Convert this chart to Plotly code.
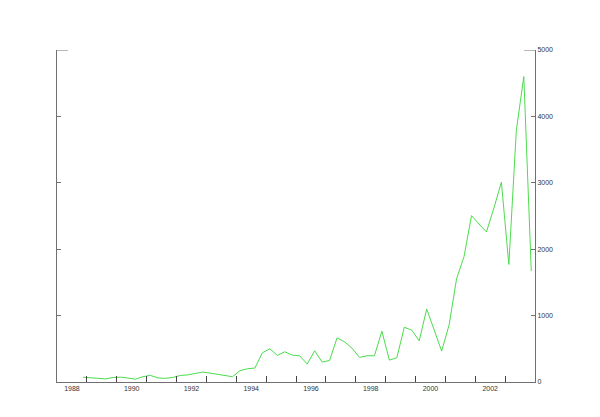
import plotly.graph_objects as go

# quarterly values, first point is Q2 1988, last is Q2 2003
years = list(range(1988, 2004))
quarter_values = [
    [72, 65, 55],                 # 1988 (Q2-Q4)
    [47, 68, 73, 60],             # 1989
    [42, 80, 100, 62],            # 1990
    [55, 68, 98, 107],            # 1991
    [125, 150, 133, 118],         # 1992
    [100, 80, 170, 200],          # 1993
    [210, 440, 500, 400],         # 1994
    [455, 405, 395, 270],         # 1995
    [470, 300, 325, 665],         # 1996
    [605, 510, 370, 395],         # 1997
    [395, 765, 330, 365],         # 1998
    [825, 780, 620, 1100],        # 1999
    [785, 465, 860, 1555],        # 2000
    [1890, 2505, 2380, 2260],     # 2001
    [2620, 3010, 1770, 3790],     # 2002
    [4600, 1670],                 # 2003 (Q1-Q2)
]
first_quarter = {1988: 2}

x_label_years = [1988, 1990, 1992, 1994, 1996, 1998, 2000, 2002]
x_minor_ticks = [y + 0.5 for y in range(1988, 2003)]
y_ticks = [0, 1000, 2000, 3000, 4000, 5000]

# time in years, point placed at middle of each quarter
t, v = [], []
for yr, vals in zip(years, quarter_values):
    q0 = first_quarter.get(yr, 1)
    for i, val in enumerate(vals):
        t.append(yr + (q0 + i - 0.5) / 4)
        v.append(val)

axis_col = '#707070'
label_font = dict(family='Arial, Liberation Sans, sans-serif', size=7, color='#333333')

fig = go.Figure()
fig.add_trace(go.Scatter(x=t, y=v, mode='lines',
                         line=dict(color='#4cdc4c', width=1), showlegend=False))
# dummy trace so the left axis exists
fig.add_trace(go.Scatter(x=[t[0]], y=[0], yaxis='y2', mode='markers',
                         marker=dict(opacity=0), showlegend=False, hoverinfo='skip'))

# page has an 8px body margin, so margins are shifted to compensate
fig.update_layout(
    width=600, height=417,
    margin=dict(l=49, r=73, t=42, b=43),
    paper_bgcolor='white', plot_bgcolor='white',
    font=label_font,
    xaxis=dict(range=[1987.5, 2003.5], showgrid=False, zeroline=False,
               showline=True, linecolor=axis_col, linewidth=1,
               tickvals=x_label_years, ticks='', ticklen=0, tickfont=label_font,
               minor=dict(tickvals=x_minor_ticks, ticks='inside', ticklen=6,
                          tickcolor='#444444', showgrid=False)),
    yaxis=dict(range=[0, 5000], side='right', showgrid=False, zeroline=False,
               showline=True, linecolor=axis_col, linewidth=1, tickfont=label_font,
               tickvals=y_ticks, ticks='inside', ticklen=4, tickcolor=axis_col),
    yaxis2=dict(range=[0, 5000], overlaying='y', side='left', showgrid=False,
                zeroline=False, showline=True, linecolor=axis_col, linewidth=1,
                tickvals=y_ticks, ticks='inside', ticklen=4, tickcolor=axis_col,
                showticklabels=False),
)

# longer ticks at the top of both vertical axes
fig.add_shape(type='line', xref='paper', yref='y', x0=0, x1=0.023,
              y0=5000, y1=5000, line=dict(color=axis_col, width=1))
fig.add_shape(type='line', xref='paper', yref='y', x0=0.977, x1=1,
              y0=5000, y1=5000, line=dict(color=axis_col, width=1))

fig.write_html("out.html")
